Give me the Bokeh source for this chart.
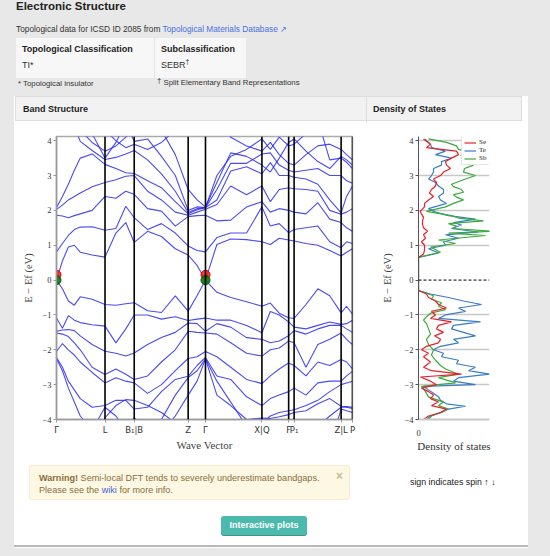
from bokeh.plotting import figure
from bokeh.models import Div, Spacer, Range1d, FixedTicker, ColumnDataSource, Legend, LegendItem, Span
from bokeh.layouts import column, row
from bokeh.embed import file_html
from bokeh.resources import INLINE

# ---------------- data ----------------
k_points = [0, 49, 78.5, 133, 150.5, 207.5, 234.5, 240, 287.5, 299]
k_labels = ["Γ", "L", "B₁|B", "Z", "Γ", "X|Q", "F", "P₁", "Z|L", "P"]

k_grid = [0, 6, 12, 18, 24, 36, 49, 60, 70, 78.5, 92, 106, 120, 133, 142, 150.5,
          162, 176, 192, 207.5, 216, 225, 234.5, 240, 252, 264, 276, 287.5, 293, 299]

# conduction-band energies at each k_grid point (eV, ascending)
cb_cols = [
    [0.00, 0.81, 1.86, 2.03, 2.08, 4.8, 4.8],
    [0.55, 1.05, 1.84, 2.15, 2.40, 4.8, 4.8],
    [0.95, 1.28, 1.79, 2.30, 2.75, 4.8, 4.8],
    [1.00, 1.45, 1.85, 2.40, 3.15, 4.4, 4.8],
    [0.80, 1.52, 1.90, 2.50, 3.50, 3.98, 4.8],
    [0.72, 1.53, 2.00, 2.68, 3.62, 3.72, 4.2],
    [0.66, 1.43, 2.40, 2.80, 3.32, 3.46, 3.50],
    [1.35, 1.48, 2.35, 2.88, 3.20, 3.52, 3.95],
    [1.65, 2.12, 2.55, 2.98, 3.08, 3.62, 4.5],
    [1.08, 1.79, 2.46, 3.00, 3.06, 3.72, 3.98],
    [1.40, 1.45, 2.05, 2.55, 2.85, 3.45, 4.05],
    [1.25, 1.62, 1.98, 2.30, 2.65, 3.05, 3.55],
    [0.90, 1.35, 1.55, 1.95, 2.25, 2.55, 3.00],
    [0.72, 0.98, 1.82, 1.86, 1.90, 1.94, 2.00],
    [0.42, 0.85, 1.85, 1.95, 2.02, 2.05, 2.10],
    [0.00, 0.81, 1.86, 2.03, 2.08, 2.08, 2.08],
    [1.02, 1.22, 1.70, 2.17, 2.30, 2.60, 3.00],
    [1.18, 1.35, 1.72, 2.70, 3.13, 3.35, 3.55],
    [1.16, 1.35, 2.10, 2.45, 3.25, 3.35, 3.75],
    [1.10, 2.10, 2.25, 2.70, 3.05, 3.62, 4.05],
    [1.02, 1.55, 1.95, 2.25, 3.37, 3.65, 3.75],
    [1.20, 1.62, 2.05, 2.60, 3.00, 3.30, 4.10],
    [1.15, 1.36, 2.00, 2.65, 3.00, 3.15, 3.85],
    [1.12, 1.45, 1.95, 2.62, 2.95, 3.10, 3.90],
    [1.05, 1.50, 1.90, 2.60, 2.90, 3.15, 4.20],
    [1.00, 1.55, 2.22, 2.55, 2.75, 3.20, 4.60],
    [0.85, 1.10, 1.75, 2.00, 2.30, 3.00, 3.45],
    [0.69, 0.93, 1.65, 1.89, 1.93, 3.00, 3.50],
    [0.80, 1.10, 1.50, 1.95, 2.40, 2.85, 3.38],
    [0.90, 1.05, 1.40, 2.05, 2.70, 2.78, 3.20],
]

# two further high-lying conduction bands along k_grid (eV)
cb_high_a = [4.8, 4.8, 4.8, 4.8, 4.3, 3.95, 3.70, 3.85, 4.1, 4.4, 4.6, 4.3, 3.6, 2.6, 2.3,
             2.10, 2.8, 3.65, 3.55, 3.3, 3.1, 3.5, 3.95, 4.05, 3.7, 3.4, 3.2, 3.55, 3.45, 3.30]
cb_high_b = [4.8, 4.8, 4.8, 4.8, 4.8, 4.8, 4.3, 4.0, 3.8, 3.9, 3.75, 3.95, 4.3, 4.8, 4.8,
             4.8, 4.8, 4.1, 3.85, 3.7, 3.95, 3.6, 3.35, 3.30, 3.6, 3.85, 3.9, 3.75, 3.6, 3.45]

# valence-band energies at each k_grid point (eV, descending)
vb_cols = [
    [0.00, -1.09, -1.47, -1.52, -2.05, -2.22, -2.26, -4.8],
    [-0.25, -1.38, -1.43, -1.55, -1.82, -2.50, -2.60, -4.8],
    [-0.60, -1.02, -1.42, -1.62, -2.00, -2.90, -3.10, -4.8],
    [-0.72, -1.15, -1.45, -1.80, -2.15, -3.15, -3.50, -4.8],
    [-0.48, -1.22, -1.60, -2.00, -2.35, -3.40, -3.90, -4.8],
    [-0.55, -1.28, -1.85, -2.50, -2.65, -3.65, -4.30, -4.8],
    [-0.70, -1.32, -2.04, -2.71, -2.95, -3.60, -3.65, -4.00],
    [-0.72, -1.80, -2.10, -2.55, -2.80, -3.45, -3.90, -4.8],
    [-0.68, -1.40, -2.18, -2.70, -2.90, -3.45, -4.30, -4.8],
    [-0.65, -1.00, -2.09, -2.85, -2.95, -3.70, -3.95, -4.8],
    [-0.88, -1.00, -1.85, -2.75, -3.25, -3.65, -4.30, -4.8],
    [-0.93, -1.12, -1.65, -2.35, -3.00, -3.20, -4.00, -4.8],
    [-0.45, -1.05, -1.50, -2.00, -2.60, -2.85, -3.30, -4.8],
    [-0.89, -1.16, -1.23, -1.47, -2.25, -2.76, -2.80, -4.8],
    [-0.45, -1.12, -1.25, -1.50, -2.20, -2.45, -2.60, -4.8],
    [0.00, -1.09, -1.47, -1.52, -2.05, -2.22, -2.26, -4.8],
    [-0.35, -1.15, -1.25, -1.55, -2.20, -2.75, -3.30, -4.8],
    [-0.50, -1.15, -1.35, -1.80, -2.50, -2.85, -3.60, -4.8],
    [-0.62, -1.30, -1.65, -2.10, -2.85, -3.35, -4.00, -4.8],
    [-0.75, -1.51, -1.70, -2.18, -2.97, -3.60, -3.96, -4.8],
    [-0.66, -0.90, -1.80, -2.00, -2.75, -3.40, -3.97, -4.8],
    [-0.95, -1.00, -1.75, -1.95, -2.55, -3.30, -3.92, -4.8],
    [-1.08, -1.20, -1.60, -1.75, -2.38, -3.20, -3.86, -4.8],
    [-1.10, -1.35, -1.45, -1.80, -2.45, -3.10, -3.80, -4.8],
    [-0.70, -1.40, -1.55, -2.50, -2.75, -3.30, -3.75, -4.8],
    [-0.25, -1.30, -1.40, -1.85, -2.35, -2.95, -3.55, -4.8],
    [-0.45, -1.20, -1.30, -1.70, -2.45, -2.90, -3.40, -4.8],
    [-0.94, -1.27, -1.30, -1.52, -2.28, -2.90, -3.62, -3.70],
    [-0.75, -1.25, -1.40, -1.70, -2.35, -2.75, -3.63, -3.75],
    [-0.98, -1.15, -1.50, -1.85, -2.55, -2.62, -3.65, -3.80],
]

# two further deep valence bands along k_grid (eV)
vb_low_a = [-4.8, -4.8, -4.8, -4.8, -4.8, -4.8, -3.95, -3.60, -3.43, -3.45, -3.6, -3.8, -4.1, -4.8, -4.8,
            -4.8, -4.8, -4.8, -4.4, -4.1, -3.9, -3.8, -3.75, -3.72, -3.6, -3.45, -3.2, -3.00, -2.95, -2.90]
vb_low_b = [-4.8, -4.8, -4.8, -4.8, -4.8, -4.8, -4.8, -4.8, -4.8, -4.8, -4.8, -4.4, -3.9, -3.3, -2.9,
            -2.26, -2.9, -3.5, -4.2, -4.8, -4.8, -4.8, -4.8, -4.8, -4.5, -4.2, -3.9, -3.65, -3.65, -3.68]

# band-touching markers at Gamma
dot_k = [0, 150.5]
dot_red_E = [0.15, 0.15]
dot_green_E = [0.0, 0.0]

y_ticks = [-4, -3, -2, -1, 0, 1, 2, 3, 4]
fermi_level = 0

# projected density of states (energy, DOS) per element
se_E = [-4.0, -3.9, -3.8, -3.7, -3.6, -3.5, -3.4, -3.3, -3.2, -3.1, -3.0, -2.9, -2.78, -2.7, -2.6,
        -2.5, -2.35, -2.2, -2.1, -2.0, -1.9, -1.8, -1.7, -1.6, -1.5, -1.4, -1.3, -1.2, -1.1, -1.0,
        -0.9, -0.8, -0.7, -0.6, -0.5, -0.4, -0.3,
        0.65, 0.75, 0.85, 1.0, 1.1, 1.2, 1.3, 1.4, 1.5, 1.6, 1.7, 1.8, 1.9, 1.97, 2.1, 2.2, 2.3,
        2.4, 2.5, 2.6, 2.7, 2.8, 2.9, 3.0, 3.1, 3.2, 3.3, 3.4, 3.5, 3.6, 3.7, 3.8, 3.9, 4.05]
se_dos = [5, 10, 22, 28, 13, 20, 12, 15, 10, 3, 18, 12, 2, 43, 13,
          5, 12, 5, 10, 3, 8, 20, 22, 16, 25, 18, 20, 33, 12, 17,
          13, 28, 20, 17, 10, 8, 0,
          0, 5, 6, 6, 3, 7, 5, 9, 5, 4, 4, 5, 3, 1.7, 6, 6, 10,
          15, 11, 13, 17, 18, 15, 22, 25, 32, 28, 27, 33, 40, 38, 8, 12, 5]

te_E = [-4.0, -3.9, -3.8, -3.7, -3.62, -3.55, -3.45, -3.35, -3.25, -3.15, -3.05, -3.0, -2.9, -2.8,
        -2.7, -2.6, -2.5, -2.4, -2.3, -2.2, -2.1, -2.0, -1.9, -1.8, -1.7, -1.6, -1.5, -1.4, -1.3,
        -1.2, -1.1, -1.0, -0.9, -0.8, -0.7, -0.6, -0.5, -0.4, -0.3,
        0.65, 0.78, 0.9, 1.0, 1.1, 1.2, 1.3, 1.38, 1.48, 1.58, 1.65, 1.75, 1.85, 1.95, 2.05, 2.2,
        2.3, 2.4, 2.5, 2.6, 2.7, 2.8, 2.9, 3.0, 3.1, 3.2, 3.3, 3.4, 3.5, 3.6, 3.7, 3.8, 3.9, 4.05]
te_dos = [8, 12, 23, 30, 47, 28, 22, 20, 15, 10, 5, 57, 35, 40,
          71, 50, 57, 38, 40, 23, 25, 15, 22, 40, 35, 57, 45, 33, 35,
          62, 20, 27, 47, 40, 63, 45, 30, 12, 0,
          0, 20, 10, 27, 25, 40, 27, 60, 33, 43, 35, 57, 30, 17, 10, 28,
          22, 20, 25, 25, 20, 17, 10, 13, 15, 15, 23, 23, 33, 17, 27, 13, 12, 6]

sb_E = [-4.0, -3.9, -3.8, -3.7, -3.6, -3.5, -3.35, -3.2, -3.05, -2.95, -2.8, -2.7, -2.55, -2.45,
        -2.3, -2.15, -2.0, -1.85, -1.7, -1.55, -1.4, -1.25, -1.15, -1.05, -0.95, -0.85, -0.75,
        -0.65, -0.55, -0.45, -0.3,
        0.65, 0.8, 0.95, 1.05, 1.15, 1.28, 1.35, 1.4, 1.48, 1.55, 1.62, 1.7, 1.78, 1.85, 1.97,
        2.1, 2.2, 2.3, 2.38, 2.45, 2.52, 2.6, 2.68, 2.75, 2.88, 3.0, 3.1, 3.2, 3.3, 3.4, 3.5,
        3.58, 3.65, 3.75, 3.85, 3.95, 4.05]
sb_dos = [10, 13, 22, 30, 20, 25, 10, 7, 3, 37, 20, 40, 27, 22,
          17, 13, 15, 10, 8, 12, 10, 8, 5, 8, 12, 27, 20,
          23, 13, 15, 0,
          0, 22, 12, 37, 20, 67, 30, 75, 35, 38, 30, 65, 40, 33, 8,
          27, 35, 45, 38, 35, 45, 43, 35, 33, 45, 57, 45, 46, 55, 47, 60,
          42, 53, 40, 38, 28, 10]

species = ["Se", "Te", "Sb"]
species_colors = ["#e8212a", "#3b7cc7", "#3aab3a"]

# ---------------- styling helpers ----------------
SANS = "'Liberation Sans', Arial, Helvetica, sans-serif"
SERIF = "Liberation Serif"
minus = lambda v: ("−" + str(abs(v))) if v < 0 else str(v)

# ---------------- band structure figure ----------------
bs = figure(width=346, height=332, x_range=Range1d(0, 299), y_range=Range1d(-4.0, 4.12),
            output_backend="svg", toolbar_location=None,
            min_border_left=33, min_border_right=14, min_border_top=13, min_border_bottom=36,
            background_fill_color="white", border_fill_color="white",
            outline_line_color="#aaaaaa", outline_line_width=1.5)
bs.grid.visible = False

bands = [list(b) for b in zip(*cb_cols)] + [list(b) for b in zip(*vb_cols)]
bands += [cb_high_a, cb_high_b, vb_low_a, vb_low_b]
src = ColumnDataSource(dict(xs=[k_grid] * len(bands), ys=bands))
bs.multi_line("xs", "ys", source=src, line_color="#2a2af2", line_width=1.1, line_alpha=0.85)

for kp in k_points[1:]:
    bs.add_layout(Span(location=kp, dimension="height", line_color="black", line_width=1.6))

bs.scatter(dot_k, dot_red_E, size=9, fill_color="#ff1a1a", line_color="#cc0000", fill_alpha=0.85)
bs.scatter(dot_k, dot_green_E, size=9, fill_color="#0a7a0a", line_color="#075007", fill_alpha=0.9)

bs.xaxis.ticker = FixedTicker(ticks=k_points)
bs.xaxis.major_label_overrides = {k: lab for k, lab in zip(k_points, k_labels)}
bs.xaxis.major_label_text_font = "DejaVu Sans"
bs.xaxis.major_label_text_font_size = "8.5px"
bs.xaxis.major_label_text_color = "#333333"
bs.xaxis.axis_label = "Wave Vector"
bs.xaxis.axis_label_text_font = SERIF
bs.xaxis.axis_label_text_font_size = "11px"
bs.xaxis.axis_label_text_font_style = "normal"
bs.xaxis.axis_label_standoff = 1
bs.xaxis.major_label_standoff = 2

bs.yaxis.ticker = FixedTicker(ticks=y_ticks)
bs.yaxis.major_label_overrides = {v: minus(v) for v in y_ticks}
bs.yaxis.major_label_text_font = SERIF
bs.yaxis.major_label_text_font_size = "8.5px"
bs.yaxis.major_label_text_color = "#333333"
bs.yaxis.axis_label = "E − Ef (eV)"
bs.yaxis.axis_label_text_font = SERIF
bs.yaxis.axis_label_text_font_size = "10.5px"
bs.yaxis.axis_label_text_font_style = "normal"
bs.yaxis.axis_label_standoff = 5
bs.yaxis.major_label_standoff = 2

for ax in (bs.xaxis, bs.yaxis):
    ax.axis_line_color = "#999999"
    ax.axis_line_width = 1.5
    ax.major_tick_line_color = "#999999"
    ax.major_tick_in = 0
    ax.major_tick_out = 3
    ax.minor_tick_line_color = None

# ---------------- density of states figure ----------------
ds = figure(width=157, height=332, x_range=Range1d(0, 71), y_range=Range1d(-4.0, 4.12),
            output_backend="svg", toolbar_location=None,
            min_border_left=52, min_border_right=34, min_border_top=13, min_border_bottom=36,
            background_fill_color="white", border_fill_color="white", outline_line_color=None)
ds.xgrid.visible = False
ds.ygrid.ticker = FixedTicker(ticks=[t for t in y_ticks if t != 0])
ds.ygrid.grid_line_color = "#c8c8c8"
ds.ygrid.grid_line_width = 1.6

ds.add_layout(Span(location=fermi_level, dimension="width", line_color="black",
                   line_width=1, line_dash="3 2"))

r_te = ds.line(te_dos, te_E, line_color=species_colors[1], line_width=1.2)
r_sb = ds.line(sb_dos, sb_E, line_color=species_colors[2], line_width=1.2)
r_se = ds.line(se_dos, se_E, line_color=species_colors[0], line_width=1.2)

legend = Legend(items=[LegendItem(label=species[0], renderers=[r_se]),
                       LegendItem(label=species[1], renderers=[r_te]),
                       LegendItem(label=species[2], renderers=[r_sb])],
                location=(43, 254), label_text_font=SERIF, label_text_font_size="7px",
                label_text_color="#222222",
                glyph_width=12, glyph_height=7, label_height=7, label_standoff=3,
                spacing=0, padding=2, margin=0, border_line_color="#cccccc",
                background_fill_color="white", background_fill_alpha=1)
ds.add_layout(legend)

ds.xaxis.ticker = FixedTicker(ticks=[0])
ds.xaxis.major_label_text_font = SERIF
ds.xaxis.major_label_text_font_size = "8.5px"
ds.xaxis.major_label_text_color = "#333333"
ds.xaxis.axis_label = "Density of states"
ds.xaxis.axis_label_text_font = SERIF
ds.xaxis.axis_label_text_font_size = "11px"
ds.xaxis.axis_label_text_font_style = "normal"
ds.xaxis.axis_label_text_color = "#333333"
ds.xaxis.axis_label_standoff = 1
ds.xaxis.axis_line_color = "#c8c8c8"
ds.xaxis.axis_line_width = 2
ds.xaxis.major_tick_line_color = None
ds.xaxis.minor_tick_line_color = None
ds.xaxis.major_label_standoff = 4

ds.yaxis.ticker = FixedTicker(ticks=y_ticks)
ds.yaxis.major_label_overrides = {v: minus(v) for v in y_ticks}
ds.yaxis.major_label_text_font = SERIF
ds.yaxis.major_label_text_font_size = "8.5px"
ds.yaxis.major_label_text_color = "#333333"
ds.yaxis.axis_label = "E − Ef (eV)"
ds.yaxis.axis_label_text_font = SERIF
ds.yaxis.axis_label_text_font_size = "10.5px"
ds.yaxis.axis_label_text_font_style = "normal"
ds.yaxis.axis_label_standoff = 8
ds.yaxis.axis_line_color = "#555555"
ds.yaxis.major_tick_line_color = "#555555"
ds.yaxis.major_tick_in = 0
ds.yaxis.major_tick_out = 3
ds.yaxis.minor_tick_line_color = None
ds.yaxis.major_label_standoff = 2

# ---------------- page chrome ----------------
top_html = f"""
<div style="position:relative;width:550px;height:96px;font-family:{SANS};color:#333;">
  <div style="position:absolute;left:16px;top:0px;font-size:11.5px;line-height:13px;font-weight:bold;color:#222;white-space:nowrap;">Electronic Structure</div>
  <div style="position:absolute;left:16px;top:24px;font-size:8.3px;line-height:10px;white-space:nowrap;">Topological data for ICSD ID 2085 from <span style="color:#4a6fe3;">Topological Materials Database &#8599;</span></div>
  <div style="position:absolute;left:16px;top:38px;width:230px;height:40px;background:#f7f7f7;"></div>
  <div style="position:absolute;left:154px;top:38px;width:1px;height:40px;background:#e4e4e4;"></div>
  <div style="position:absolute;left:22px;top:44px;font-size:9px;line-height:11px;font-weight:bold;color:#222;white-space:nowrap;">Topological Classification</div>
  <div style="position:absolute;left:161px;top:44px;font-size:9px;line-height:11px;font-weight:bold;color:#222;white-space:nowrap;">Subclassification</div>
  <div style="position:absolute;left:22px;top:60px;font-size:9px;line-height:11px;white-space:nowrap;">TI*</div>
  <div style="position:absolute;left:161px;top:60px;font-size:9px;line-height:11px;white-space:nowrap;">SEBR<span style="position:relative;top:-4px;font-size:7px;">†</span></div>
  <div style="position:absolute;left:18px;top:79px;font-size:7.8px;line-height:10px;white-space:nowrap;">* Topological insulator</div>
  <div style="position:absolute;left:157px;top:78px;font-size:7.8px;line-height:10px;white-space:nowrap;"><span style="position:relative;top:-2px;">†</span> Split Elementary Band Representations</div>
</div>
"""
top = Div(text=top_html, width=550, height=96, margin=0)

header_html = f"""
<div style="position:relative;width:514px;height:27px;font-family:{SANS};">
  <div style="position:absolute;left:1px;top:0px;width:507px;height:25px;background:#f2f2f2;border:1px solid #dddddd;"></div>
  <div style="position:absolute;left:352px;top:0px;width:1px;height:27px;background:#dddddd;"></div>
  <div style="position:absolute;left:9px;top:8px;font-size:9px;line-height:11px;font-weight:bold;color:#222;white-space:nowrap;">Band Structure</div>
  <div style="position:absolute;left:359px;top:8px;font-size:9px;line-height:11px;font-weight:bold;color:#222;white-space:nowrap;">Density of States</div>
</div>
"""
header = Div(text=header_html, width=514, height=27, margin=0)

footer_html = f"""
<div style="position:relative;width:514px;height:93px;font-family:{SANS};">
  <div style="position:absolute;left:15px;top:10px;width:321px;height:35px;background:#fcf8e3;border:1px solid #faebcc;border-radius:3px;"></div>
  <div style="position:absolute;left:25px;top:17px;font-size:9.1px;line-height:12px;color:#8a6d3b;white-space:nowrap;"><b>Warning!</b> Semi-local DFT tends to severely underestimate bandgaps.<br>Please see the <span style="color:#4a5ed8;">wiki</span> for more info.</div>
  <div style="position:absolute;left:322px;top:14px;font-size:12px;line-height:14px;font-weight:bold;color:#c9b995;">×</div>
  <div style="position:absolute;left:396px;top:22px;font-size:8.8px;line-height:10px;color:#222;white-space:nowrap;">sign indicates spin ↑ ↓</div>
  <div style="position:absolute;left:207px;top:61px;width:86px;height:19px;background:#4cb9ad;border-radius:3px;box-shadow:0 1px 0 #3a958a;color:white;font-weight:bold;font-size:9px;line-height:19px;text-align:center;white-space:nowrap;">Interactive plots</div>
  <div style="position:absolute;left:0px;top:90px;width:514px;height:2px;background:#b8b8b8;"></div>
</div>
"""
footer = Div(text=footer_html, width=514, height=93, margin=0)

content = row(Spacer(width=6, height=332, margin=0), bs, ds, Spacer(width=5, height=332, margin=0), spacing=0)
panel = column(header, content, footer, width=514, height=452, spacing=0,
               styles={"background-color": "white"})
mid = row(Spacer(width=14, height=452, margin=0), panel, Spacer(width=22, height=452, margin=0), spacing=0)
root = column(top, mid, Spacer(width=550, height=8, margin=0), width=550, height=556, spacing=0,
              styles={"background-color": "#e8e8e8"})

open("out.html", "w").write(file_html(root, INLINE))
